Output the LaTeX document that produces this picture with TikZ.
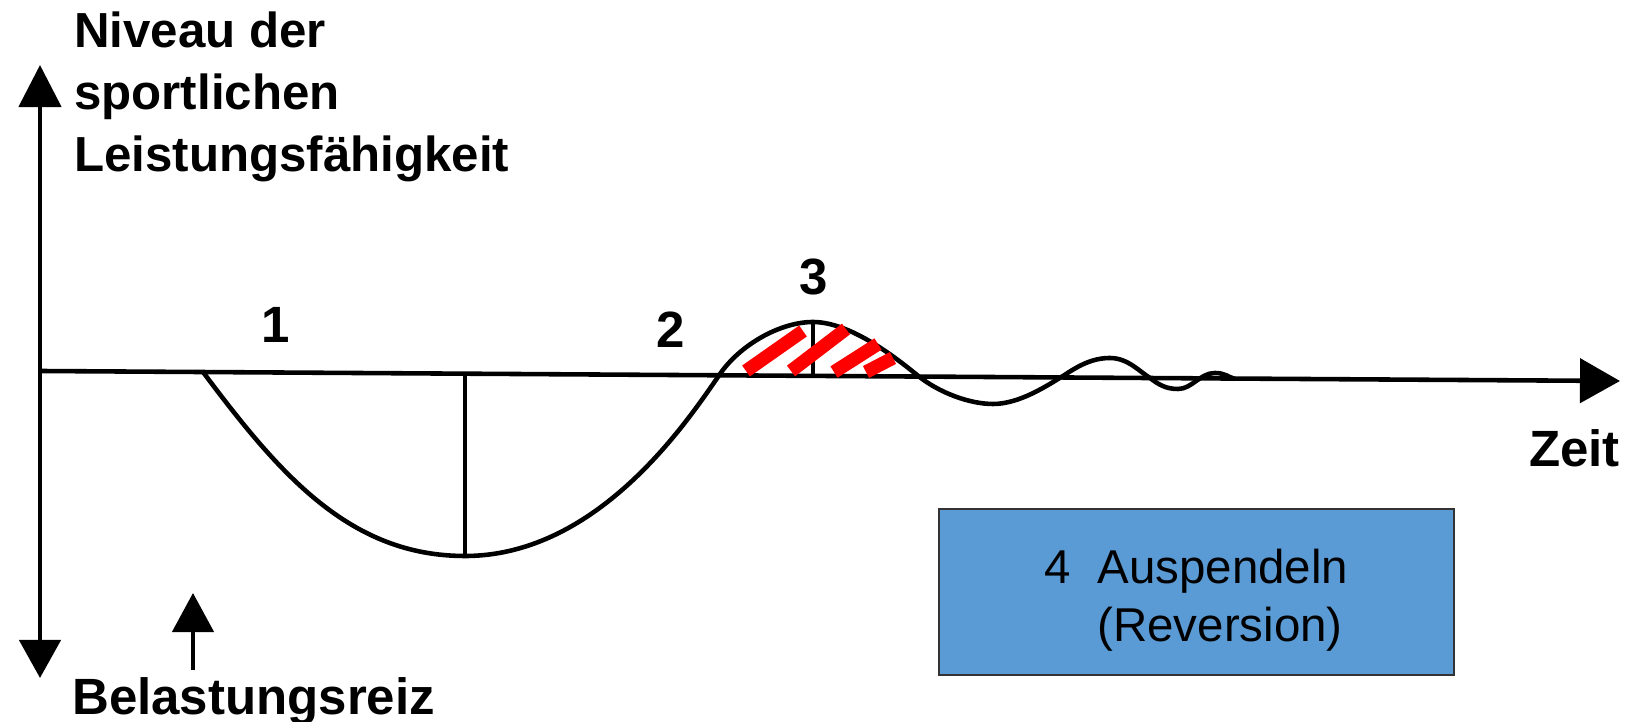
\documentclass[tikz,border=0pt]{standalone}
\usepackage{fontspec}
\setmainfont{Liberation Sans}
\usetikzlibrary{arrows.meta}
\definecolor{revblue}{RGB}{91,155,213}
\begin{document}
\begin{tikzpicture}[x=0.01cm, y=-0.01cm, line width=1.3pt, lbl/.style={font=\bfseries\fontsize{14.5}{17.6}\selectfont, inner sep=0pt}, hatch/.style={red, line width=3.8pt}, bigtip/.style={-{Triangle[length=0.40cm, width=0.44cm]}}]
                    \useasboundingbox (0,0) rectangle (1632,722);
                    \coordinate (ytop) at (40,65);
                    \coordinate (ybot) at (40,678);
                    \coordinate (xstart) at (40,371);
                    \coordinate (xend) at (1620,381);
                    \coordinate (reizfoot) at (193,670);
                    \coordinate (reiztip) at (193,593);
                    \draw[{Triangle[length=0.38cm, width=0.41cm]}-{Triangle[length=0.42cm, width=0.42cm]}] (ybot) -- (ytop);
                    \draw[bigtip] (xstart) -- (xend);
                    \draw[-{Triangle[length=0.39cm, width=0.41cm]}] (reizfoot) -- (reiztip);
                    \draw (203,372) .. controls (280,475) and (350,556) .. (465,556)
                        .. controls (600,556) and (690,417) .. (720,374)
                        .. controls (740,345) and (780,322) .. (813,322)
                        .. controls (850,322) and (895,357) .. (917,375)
                        .. controls (939,393) and (970,404) .. (993,404)
                        .. controls (1020,404) and (1048,385) .. (1063,376)
                        .. controls (1078,366) and (1092,358) .. (1110,358)
                        .. controls (1128,358) and (1140,372) .. (1150,378)
                        .. controls (1158,384) and (1165,389) .. (1178,389)
                        .. controls (1192,389) and (1200,373) .. (1215,373)
                        .. controls (1225,373) and (1228,377) .. (1235,379);
                    \draw (465,374) -- (465,556);
                    \draw (813,375) -- (813,322);
                    \draw[hatch] (746,371) -- (803,331);
                    \draw[hatch] (791,371) -- (846,329);
                    \draw[hatch] (834,372) -- (878,344);
                    \draw[hatch] (866,372) -- (893,358);
                    \node[lbl, font=\bfseries\fontsize{14}{17.6}\selectfont, anchor=north west, align=left] (ylabel) at (72,10) {Niveau der\\sportlichen\\Leistungsfähigkeit};
                    \node[lbl, anchor=base west] (zeit) at (1527,467) {Zeit};
                    \node[lbl, anchor=base west] (reiz) at (70,715) {Belastungsreiz};
                    \node[lbl, anchor=base] (one) at (276,343) {1};
                    \node[lbl, anchor=base] (two) at (671,348) {2};
                    \node[lbl, anchor=base] (three) at (814,295) {3};
                    \node[draw=black!80, line width=0.6pt, fill=revblue, minimum width=5.15cm, minimum height=1.66cm, align=left, font=\fontsize{13.5}{16.5}\selectfont] (revbox) at (1196.5,592) {\rule{0pt}{14.4pt}4\ \ Auspendeln\\\phantom{4\ \ }(Reversion)};
                \end{tikzpicture}
\end{document}
